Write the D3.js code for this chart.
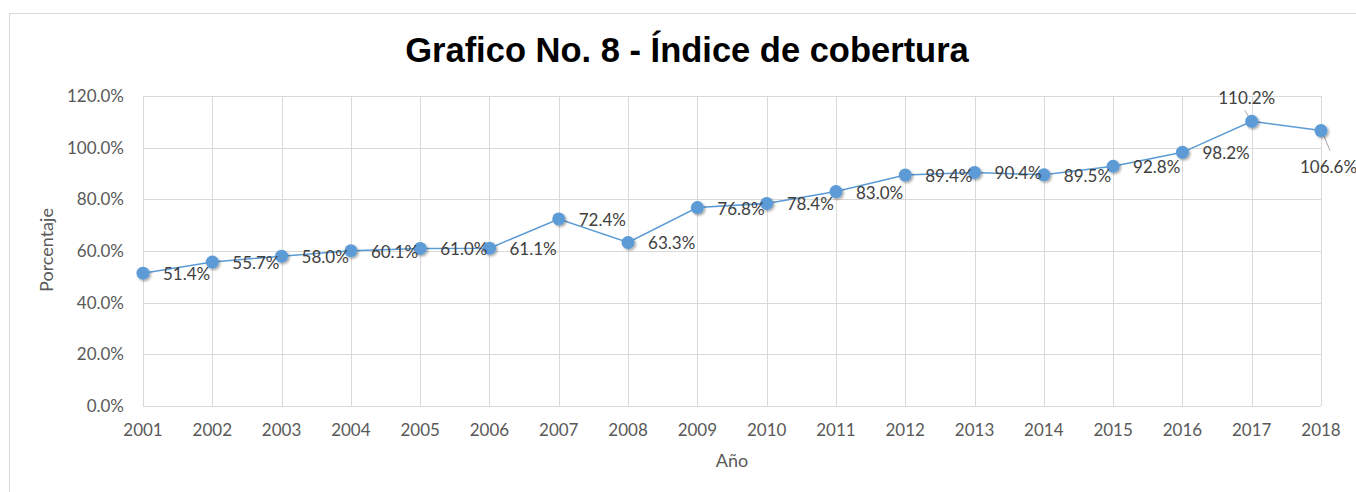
<!DOCTYPE html>
<html><head><meta charset="utf-8">
<script src="https://cdn.jsdelivr.net/npm/d3@7"></script>
<style>body{margin:0;background:#fff}text{font-family:Lato,"Open Sans",sans-serif}</style>
</head><body>
<svg id="c" width="1356" height="492"></svg>
<script>
const years = ["2001","2002","2003","2004","2005","2006","2007","2008","2009","2010","2011","2012","2013","2014","2015","2016","2017","2018"];
const values = [51.4,55.7,58.0,60.1,61.0,61.1,72.4,63.3,76.8,78.4,83.0,89.4,90.4,89.5,92.8,98.2,110.2,106.6];
const yTicks = [0,20,40,60,80,100,120];
const labelPos = ["r","r","r","r","r","r","r","r","r","r","r","r","r","r","r","r","t","br"];

const svg = d3.select("#c");
const txt = "#595959";
// outer frame
svg.append("rect").attr("x",9.5).attr("y",13.5).attr("width",1400).attr("height",500)
  .attr("fill","none").attr("stroke","#d9d9d9");

const x = d3.scalePoint().domain(years).range([143,1321]);
const y = d3.scaleLinear().domain([0,120]).range([406,96]);

const defs = svg.append("defs");
const f = defs.append("filter").attr("id","sh").attr("x","-50%").attr("y","-50%").attr("width","200%").attr("height","200%");
f.append("feDropShadow").attr("dx",1.5).attr("dy",1.5).attr("stdDeviation",1.3).attr("flood-color","#000").attr("flood-opacity",0.35);

// grid
const g = svg.append("g");
g.selectAll(".hg").data(yTicks).join("line")
  .attr("x1",143).attr("x2",1321).attr("y1",d=>Math.round(y(d))+0.5).attr("y2",d=>Math.round(y(d))+0.5)
  .attr("stroke","#d9d9d9").attr("stroke-width",1);
g.selectAll(".vg").data(years).join("line")
  .attr("x1",d=>Math.round(x(d))+0.5).attr("x2",d=>Math.round(x(d))+0.5).attr("y1",96).attr("y2",406)
  .attr("stroke","#d9d9d9").attr("stroke-width",1);

// y tick labels
svg.selectAll(".yt").data(yTicks).join("text")
  .attr("x",124).attr("y",d=>y(d)).attr("dy","0.35em").attr("text-anchor","end")
  .attr("fill",txt).attr("font-size",17).text(d=>d.toFixed(1)+"%");
// x tick labels
svg.selectAll(".xt").data(years).join("text")
  .attr("x",d=>x(d)).attr("y",430).attr("dy","0.35em").attr("text-anchor","middle")
  .attr("fill",txt).attr("font-size",17).text(d=>d);

// titles
svg.append("text").attr("x",687).attr("y",62).attr("text-anchor","middle")
  .attr("font-size",34.5).attr("font-weight","bold").attr("fill","#000")
  .style("font-family","'Liberation Sans',Arial,sans-serif")
  .text("Grafico No. 8 - Índice de cobertura");
svg.append("text").attr("x",732).attr("y",461).attr("dy","0.35em").attr("text-anchor","middle")
  .attr("font-size",18).attr("fill",txt).text("Año");
svg.append("text").attr("transform","translate(47,250) rotate(-90)").attr("dy","0.35em").attr("text-anchor","middle")
  .attr("font-size",18).attr("fill",txt).text("Porcentaje");

const data = years.map((yr,i)=>({yr,v:values[i],p:labelPos[i]}));
// line
svg.append("path").datum(data)
  .attr("d",d3.line().x(d=>x(d.yr)).y(d=>y(d.v)))
  .attr("fill","none").attr("stroke","#5B9BD5").attr("stroke-width",1.5);

// leader lines
data.filter(d=>d.p==="t").forEach(d=>{
  svg.append("line").attr("x1",x(d.yr)-7).attr("y1",y(d.v)-11).attr("x2",x(d.yr)-2).attr("y2",y(d.v)-3)
    .attr("stroke","#a6a6a6");
});
data.filter(d=>d.p==="br").forEach(d=>{
  svg.append("line").attr("x1",x(d.yr)+2).attr("y1",y(d.v)+3).attr("x2",x(d.yr)+9).attr("y2",y(d.v)+20)
    .attr("stroke","#a6a6a6");
});

// markers
svg.selectAll(".m").data(data).join("circle")
  .attr("cx",d=>x(d.yr)).attr("cy",d=>y(d.v)).attr("r",6.5)
  .attr("fill","#5B9BD5").attr("filter","url(#sh)");

// data labels
svg.selectAll(".dl").data(data).join("text")
  .attr("x",d=>d.p==="r"?x(d.yr)+20:d.p==="t"?x(d.yr)-5:x(d.yr)-21)
  .attr("y",d=>d.p==="r"?y(d.v)+1:d.p==="t"?y(d.v)-23:y(d.v)+36)
  .attr("dy","0.35em")
  .attr("text-anchor",d=>d.p==="t"?"middle":"start")
  .attr("fill","#404040").attr("font-size",17).text(d=>d.v.toFixed(1)+"%");
</script>
</body></html>
